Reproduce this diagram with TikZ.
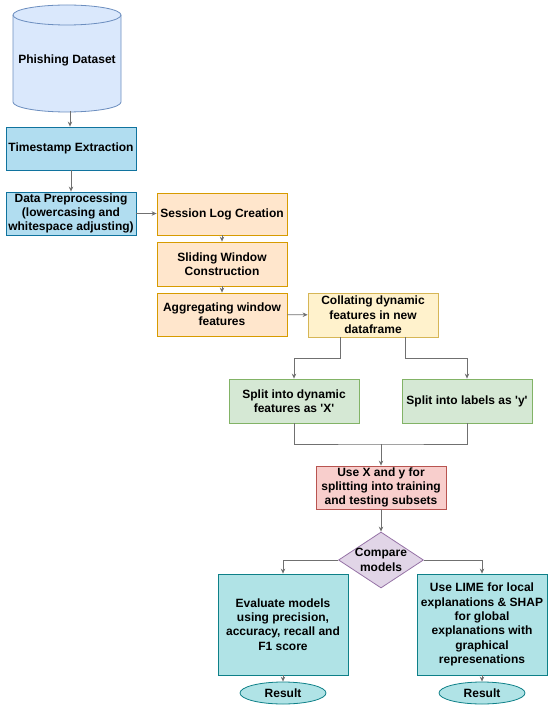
\documentclass[tikz,border=0pt]{standalone}
\usepackage{fontspec}
\setmainfont{Liberation Sans}
\usetikzlibrary{shapes.geometric,arrows.meta}
\definecolor{cylF}{HTML}{DAE8FC}\definecolor{cylD}{HTML}{6C8EBF}
\definecolor{blF}{HTML}{B1DDF0}\definecolor{blD}{HTML}{10739E}
\definecolor{orF}{HTML}{FFE6CC}\definecolor{orD}{HTML}{D79B00}
\definecolor{yeF}{HTML}{FFF2CC}\definecolor{yeD}{HTML}{D6B656}
\definecolor{grF}{HTML}{D5E8D4}\definecolor{grD}{HTML}{82B366}
\definecolor{reF}{HTML}{F8CECC}\definecolor{reD}{HTML}{B85450}
\definecolor{puF}{HTML}{E1D5E7}\definecolor{puD}{HTML}{9673A6}
\definecolor{teF}{HTML}{B0E3E6}\definecolor{teD}{HTML}{0E8088}
\definecolor{lnC}{HTML}{707070}
\begin{document}
\begin{tikzpicture}[x=1pt,y=-1pt,
  every node/.style={font=\fontsize{12}{14.4}\selectfont\bfseries, align=center, inner sep=0pt},
  box/.style={draw, line width=0.8pt, minimum width=130pt, minimum height=43pt},
  bl/.style={box, fill=blF, draw=blD},
  orb/.style={box, fill=orF, draw=orD},
  yeb/.style={box, fill=yeF, draw=yeD},
  grb/.style={box, fill=grF, draw=grD},
  reb/.style={box, fill=reF, draw=reD},
  teb/.style={box, fill=teF, draw=teD, minimum height=101pt},
  res/.style={ellipse, draw=teD, fill=teF, line width=0.8pt, minimum width=86pt, minimum height=22pt},
  ln/.style={draw=lnC, line width=0.9pt},
  arr/.style={ln, -{Stealth[length=5pt,width=4.5pt]}}
]
\useasboundingbox (0,0) rectangle (550,708);
% cylinder
\filldraw[fill=cylF, draw=cylD, line width=0.8pt]
  (13,15) -- (13,102) arc[start angle=180,end angle=360,x radius=54pt,y radius=10pt]
  -- (121,15) arc[start angle=0,end angle=180,x radius=54pt,y radius=10pt] -- cycle;
\draw[draw=cylD, line width=0.8pt] (13,15) arc[start angle=180,end angle=360,x radius=54pt,y radius=10pt];
\coordinate (cylb) at (70,111.5);
\node (ds) at (67,60) {Phishing Dataset};

\node[bl] (ts) at (71,148.5) {Timestamp Extraction};
\node[bl] (dp) at (71,213.5) {Data Preprocessing\\(lowercasing and\\whitespace adjusting)};
\node[orb, minimum height=42pt] (sl) at (222,214) {Session Log Creation};
\node[orb, minimum height=44pt] (sw) at (222,264) {Sliding Window\\Construction};
\node[orb] (ag) at (222,314.5) {Aggregating window\\features};
\node[yeb, minimum height=44pt] (co) at (373,315) {Collating dynamic\\features in new\\dataframe};
\node[grb, minimum height=44pt] (sx) at (294,401) {Split into dynamic\\features as \textquotesingle X\textquotesingle};
\node[grb, minimum height=44pt] (sy) at (467,401) {Split into labels as \textquotesingle y\textquotesingle};
\node[reb] (ux) at (381,487.5) {Use X and y for\\splitting into training\\and testing subsets};
\node[diamond, draw=puD, fill=puF, line width=0.8pt, minimum width=85pt, minimum height=56pt, aspect=1.5] (dm) at (381,560) {};
\node at (381,560) {Compare\\models};
\node[teb] (ev) at (283,624.5) {Evaluate models\\using precision,\\accuracy, recall and\\F1 score};
\node[teb] (li) at (482,624.5) {Use LIME for local\\explanations \& SHAP\\for global\\explanations with\\graphical\\represenations};
\node[res] (r1) at (283,693) {Result};
\node[res] (r2) at (482,693) {Result};

\draw[arr] (cylb) -- (cylb |- ts.north);
\draw[arr] (ts) -- (dp);
\draw[arr] (dp.east) -- (sl.west |- dp.east);
\draw[arr] (sl) -- (sw);
\draw[arr] (sw) -- (ag);
\draw[arr] (ag) -- (co);
\coordinate (cl) at ([xshift=-32.5pt]co.south);
\coordinate (cr) at ([xshift=32.5pt]co.south);
\draw[arr] (cl) -- ++(0,21) -| (sx.north);
\draw[arr] (cr) -- ++(0,21) -| (sy.north);
\coordinate (j) at (381,444);
\draw[ln] (sx.south) |- (j) -| (sy.south);
\draw[arr] (j) -- (ux.north);
\draw[arr] (ux) -- (dm);
\draw[arr] (dm.west) -| (ev.north);
\draw[arr] (dm.east) -| (li.north);
\draw[arr] (ev) -- (r1);
\draw[arr] (li) -- (r2);
\end{tikzpicture}
\end{document}
